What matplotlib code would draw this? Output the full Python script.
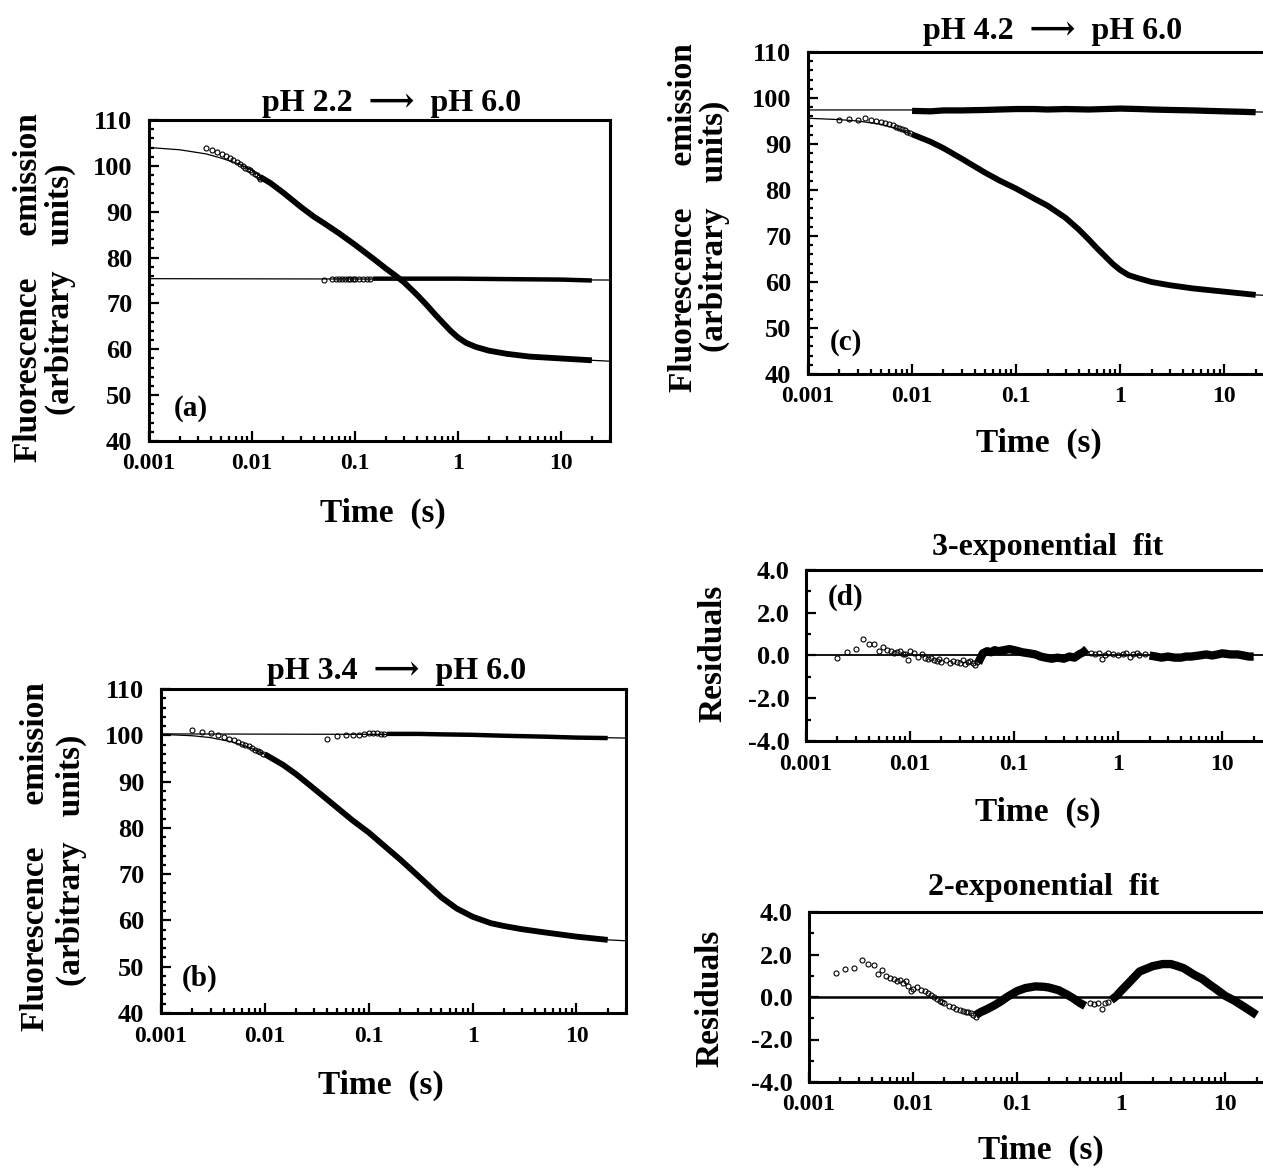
import numpy as np
import matplotlib
matplotlib.use('Agg')
import matplotlib.pyplot as plt
from matplotlib.ticker import MultipleLocator, LogLocator, NullFormatter, FormatStrFormatter

plt.rcParams['font.family'] = ['Liberation Serif', 'DejaVu Serif', 'DejaVu Sans']
plt.rcParams['font.weight'] = 'bold'
plt.rcParams['axes.unicode_minus'] = False

# ---------------------------------------------------------------
# data
# ---------------------------------------------------------------
x_ticks = [0.001, 0.01, 0.1, 1, 10]
x_tick_labels = ['0.001', '0.01', '0.1', '1', '10']

# (a) pH 2.2 -> pH 6.0
a_dec_fit_t = [0.001, 0.002, 0.0036, 0.005, 0.0075, 0.01, 0.015, 0.02, 0.03, 0.04, 0.05, 0.07,
               0.1, 0.15, 0.2, 0.25, 0.3, 0.4, 0.5, 0.6, 0.7, 0.85, 1, 1.2, 1.5, 2, 3, 5, 10,
               20, 30]
a_dec_fit_y = [104.0, 103.5, 102.6, 101.7, 100.4, 99.0, 96.3, 94.2, 91.0, 88.9, 87.5, 85.3,
               82.8, 79.8, 77.6, 76.0, 74.6, 71.9, 69.6, 67.6, 66.0, 64.0, 62.6, 61.4, 60.5,
               59.7, 59.0, 58.4, 58.0, 57.6, 57.4]
a_dec_circ_t = [0.0036, 0.0041, 0.0046, 0.0051, 0.0056, 0.0061, 0.0066, 0.0071, 0.0076,
                0.0081, 0.0086, 0.0091, 0.0096, 0.0101, 0.0106, 0.0111, 0.0116, 0.0121]
a_dec_circ_y = [103.8, 103.4, 103.0, 102.6, 102.1, 101.7, 101.3, 100.8, 100.4,
                100.0, 99.6, 99.3, 99.0, 98.6, 98.2, 97.9, 97.5, 97.1]
a_dec_band_t = [0.012, 0.015, 0.02, 0.03, 0.04, 0.05, 0.07, 0.1, 0.15, 0.2, 0.25, 0.3, 0.4,
                0.5, 0.6, 0.7, 0.85, 1, 1.2, 1.5, 2, 3, 5, 10, 20]
a_dec_band_y = [97.6, 96.3, 94.2, 91.0, 88.9, 87.5, 85.3, 82.8, 79.8, 77.6, 76.0, 74.6, 71.9,
                69.6, 67.6, 66.0, 64.0, 62.6, 61.4, 60.5, 59.7, 59.0, 58.4, 58.0, 57.6]
a_flat_fit_t = [0.001, 0.5, 30]
a_flat_fit_y = [75.4, 75.3, 75.1]
a_flat_circ_t = [0.05, 0.06, 0.065, 0.07, 0.075, 0.08, 0.085, 0.09, 0.095, 0.1, 0.11, 0.12,
                 0.13, 0.14]
a_flat_circ_y = [75.0, 75.4, 75.3, 75.4, 75.3, 75.4, 75.3, 75.4, 75.3, 75.3, 75.4, 75.3,
                 75.4, 75.3]
a_flat_band_t = [0.15, 0.5, 1, 3, 10, 20]
a_flat_band_y = [75.4, 75.4, 75.4, 75.3, 75.2, 75.0]

# (b) pH 3.4 -> pH 6.0
b_flat_fit_t = [0.001, 0.1, 1, 10, 30]
b_flat_fit_y = [100.3, 100.2, 100.0, 99.6, 99.4]
b_flat_circ_t = [0.04, 0.05, 0.06, 0.07, 0.08, 0.09, 0.1, 0.11, 0.12, 0.13, 0.14]
b_flat_circ_y = [99.2, 99.9, 100.0, 100.1, 100.0, 100.3, 100.5, 100.4, 100.4, 100.3, 100.2]
b_flat_band_t = [0.15, 0.3, 0.5, 1, 2, 5, 10, 20]
b_flat_band_y = [100.3, 100.3, 100.2, 100.1, 99.9, 99.7, 99.5, 99.4]
b_dec_fit_t = [0.001, 0.002, 0.003, 0.005, 0.007, 0.01, 0.015, 0.02, 0.03, 0.05, 0.07, 0.1,
               0.15, 0.2, 0.3, 0.4, 0.5, 0.7, 1, 1.5, 2, 3, 5, 10, 20, 30]
b_dec_fit_y = [100.2, 99.9, 99.5, 98.5, 97.4, 95.9, 93.6, 91.6, 88.4, 84.3, 81.6, 79.0,
               75.6, 73.2, 69.6, 67.0, 65.0, 62.6, 60.8, 59.4, 58.8, 58.1, 57.4, 56.5, 55.8,
               55.6]
b_dec_circ_t = [0.002, 0.0025, 0.003, 0.0035, 0.004, 0.0045, 0.005, 0.0055, 0.006, 0.0065,
                0.007, 0.0075, 0.008, 0.0085, 0.009, 0.0095]
b_dec_circ_y = [101.1, 100.7, 100.5, 100.1, 99.6, 99.3, 98.9, 98.6, 98.2, 97.9,
                97.6, 97.2, 96.9, 96.6, 96.3, 96.0]
b_dec_band_t = [0.01, 0.015, 0.02, 0.03, 0.05, 0.07, 0.1, 0.15, 0.2, 0.3, 0.4, 0.5, 0.7, 1,
                1.5, 2, 3, 5, 10, 20]
b_dec_band_y = [95.9, 93.6, 91.6, 88.4, 84.3, 81.6, 79.0, 75.6, 73.2, 69.6, 67.0, 65.0, 62.6,
                60.8, 59.4, 58.8, 58.1, 57.4, 56.5, 55.8]

# (c) pH 4.2 -> pH 6.0
c_flat_fit_t = [0.001, 0.01, 0.1, 1, 10, 30]
c_flat_fit_y = [97.4, 97.4, 97.5, 97.5, 97.1, 96.9]
c_flat_band_t = [0.01, 0.015, 0.02, 0.03, 0.05, 0.07, 0.1, 0.15, 0.2, 0.3, 0.5, 0.7, 1, 1.5,
                 2, 3, 5, 7, 10, 15, 20]
c_flat_band_y = [97.2, 97.1, 97.3, 97.3, 97.4, 97.5, 97.6, 97.6, 97.5, 97.6, 97.5, 97.6, 97.7,
                 97.6, 97.5, 97.4, 97.3, 97.2, 97.1, 97.0, 96.9]
c_dec_fit_t = [0.001, 0.002, 0.003, 0.005, 0.007, 0.01, 0.015, 0.02, 0.03, 0.05, 0.07, 0.1,
               0.15, 0.2, 0.3, 0.4, 0.5, 0.6, 0.7, 0.85, 1, 1.2, 1.5, 2, 3, 5, 10, 20, 30]
c_dec_fit_y = [95.6, 95.3, 95.0, 94.3, 93.4, 92.1, 90.5, 89.1, 86.8, 83.8, 82.0, 80.3,
               78.1, 76.6, 73.9, 71.4, 69.2, 67.3, 65.8, 63.9, 62.6, 61.5, 60.8, 60.0, 59.3,
               58.6, 57.9, 57.2, 57.0]
c_dec_circ_t = [0.002, 0.0025, 0.003, 0.0035, 0.004, 0.0045, 0.005, 0.0055, 0.006, 0.0065,
                0.007, 0.0075, 0.008, 0.0085, 0.009, 0.0095]
c_dec_circ_y = [95.3, 95.4, 95.3, 95.6, 95.2, 95.1, 94.8, 94.6, 94.3, 94.1,
                93.8, 93.5, 93.3, 93.0, 92.7, 92.4]
c_dec_band_t = [0.01, 0.015, 0.02, 0.03, 0.05, 0.07, 0.1, 0.15, 0.2, 0.3, 0.4, 0.5, 0.6, 0.7,
                0.85, 1, 1.2, 1.5, 2, 3, 5, 10, 20]
c_dec_band_y = [92.1, 90.5, 89.1, 86.8, 83.8, 82.0, 80.3, 78.1, 76.6, 73.9, 71.4, 69.2, 67.3,
                65.8, 63.9, 62.6, 61.5, 60.8, 60.0, 59.3, 58.6, 57.9, 57.2]

# (d) residuals, 3-exponential fit
d_circ_t = [0.002, 0.0025, 0.003, 0.0035, 0.004, 0.0045, 0.005, 0.0055, 0.006, 0.0065, 0.007,
            0.0075, 0.008, 0.0085, 0.009, 0.0095, 0.01, 0.011, 0.012, 0.013, 0.014, 0.015,
            0.016, 0.017, 0.018, 0.019, 0.02, 0.022, 0.024, 0.026, 0.028, 0.03, 0.032, 0.034,
            0.036, 0.038, 0.04, 0.042, 0.044]
d_circ_y = [-0.1, 0.15, 0.3, 0.75, 0.55, 0.55, 0.2, 0.4, 0.25, 0.2, 0.1, 0.15, 0.2, 0.05,
            0.05, -0.2, 0.2, 0.1, -0.05, 0.05, -0.1, -0.15, -0.1, -0.2, -0.25, -0.15, -0.3,
            -0.2, -0.35, -0.25, -0.3, -0.35, -0.2, -0.4, -0.3, -0.25, -0.35, -0.45, -0.3]
d_band1_t = [0.045, 0.05, 0.055, 0.06, 0.065, 0.07, 0.08, 0.09, 0.1, 0.11, 0.12, 0.14, 0.16,
             0.18, 0.2, 0.23, 0.26, 0.3, 0.34, 0.38, 0.42, 0.46, 0.5]
d_band1_y = [-0.35, 0.1, 0.2, 0.15, 0.25, 0.2, 0.25, 0.3, 0.25, 0.2, 0.15, 0.1, 0.05, -0.05,
             -0.1, -0.15, -0.1, -0.15, -0.05, -0.1, 0.05, 0.15, 0.3]
d_circ2_t = [0.55, 0.6, 0.65, 0.7, 0.75, 0.8, 0.9, 1.0, 1.1, 1.2, 1.3, 1.4, 1.5, 1.6, 1.8]
d_circ2_y = [0.1, 0.05, 0.1, -0.15, 0.0, 0.1, 0.05, 0.0, 0.05, 0.1, -0.05, 0.05, 0.1, 0.0, 0.05]
d_band2_t = [2, 2.3, 2.6, 3, 3.5, 4, 4.5, 5, 6, 7, 8, 9, 10, 12, 14, 16, 18, 20]
d_band2_y = [0.0, -0.05, -0.1, -0.05, -0.1, -0.1, -0.05, -0.05, 0.0, 0.05, 0.0, 0.05, 0.1,
             0.05, 0.05, 0.0, -0.05, -0.05]

# (e) residuals, 2-exponential fit
e_circ_t = [0.0018, 0.0022, 0.0027, 0.0032, 0.0037, 0.0042, 0.0046, 0.005, 0.0055, 0.006,
            0.0065, 0.007, 0.0075, 0.008, 0.0085, 0.009, 0.0095, 0.01, 0.011, 0.012, 0.013,
            0.014, 0.015, 0.016, 0.017, 0.018, 0.019, 0.02, 0.022, 0.024, 0.026, 0.028, 0.03,
            0.032, 0.034, 0.036, 0.038, 0.04]
e_circ_y = [1.15, 1.3, 1.35, 1.75, 1.55, 1.5, 1.1, 1.25, 1.0, 0.9, 0.85, 0.75, 0.8, 0.65, 0.75,
            0.5, 0.3, 0.4, 0.45, 0.35, 0.3, 0.2, 0.1, 0.0, -0.1, -0.2, -0.25, -0.3, -0.4, -0.45,
            -0.55, -0.6, -0.65, -0.7, -0.7, -0.75, -0.85, -0.95]
e_band1_t = [0.04, 0.045, 0.05, 0.06, 0.07, 0.08, 0.09, 0.1, 0.12, 0.15, 0.18, 0.2, 0.25, 0.3,
             0.35, 0.4, 0.45]
e_band1_y = [-0.85, -0.7, -0.6, -0.4, -0.2, 0.0, 0.15, 0.28, 0.42, 0.5, 0.48, 0.45, 0.32,
             0.12, -0.08, -0.28, -0.42]
e_circ2_t = [0.5, 0.55, 0.6, 0.65, 0.7, 0.75]
e_circ2_y = [-0.3, -0.35, -0.3, -0.55, -0.3, -0.25]
e_band2_t = [0.8, 0.9, 1.0, 1.2, 1.5, 2, 2.5, 3, 3.5, 4, 5, 6, 7, 8, 10, 12, 15, 18, 20]
e_band2_y = [-0.15, 0.05, 0.3, 0.7, 1.2, 1.45, 1.55, 1.55, 1.45, 1.35, 1.05, 0.85, 0.6, 0.4,
             0.05, -0.15, -0.45, -0.7, -0.85]

# ---------------------------------------------------------------
# figure / helpers (layout in pixels)
# ---------------------------------------------------------------
W, H = 1263, 1168
fig = plt.figure(figsize=(W / 100, H / 100), dpi=100)


def add_panel(L, T, R, B, ylim, ymaj, ymin, yfmt):
    ax = fig.add_axes([L / W, 1 - B / H, (R - L) / W, (B - T) / H])
    ax.set_xscale('log')
    ax.set_xlim(0.001, 30)
    ax.set_ylim(*ylim)
    ax.set_xticks(x_ticks)
    ax.set_xticklabels(x_tick_labels)
    ax.xaxis.set_minor_locator(LogLocator(base=10, subs=np.arange(2, 10)))
    ax.xaxis.set_minor_formatter(NullFormatter())
    ax.yaxis.set_major_locator(MultipleLocator(ymaj))
    ax.yaxis.set_minor_locator(MultipleLocator(ymin))
    ax.yaxis.set_major_formatter(FormatStrFormatter(yfmt))
    ax.tick_params(which='both', direction='in', top=False, right=False, width=1.6)
    ax.tick_params(which='major', length=7)
    ax.tick_params(which='minor', length=3.5)
    ax.tick_params(axis='y', pad=12, labelsize=19)
    ax.tick_params(axis='x', pad=9, labelsize=17)
    for s in ax.spines.values():
        s.set_linewidth(2.2)
    return ax


def ftext(x, y, s, size, rot=0):
    fig.text(x / W, 1 - y / H, s, fontsize=size, rotation=rot, ha='center', va='center',
             fontweight='bold')


def fit(ax, t, y, lw=0.9):
    ax.plot(t, y, color='black', lw=lw, zorder=2)


def band(ax, t, y, lw=4.2):
    ax.plot(t, y, color='black', lw=lw, solid_capstyle='butt', solid_joinstyle='round', zorder=3)


def circles(ax, t, y):
    ax.plot(t, y, 'o', ms=3.6, mfc='none', mec='black', mew=0.8, zorder=4)


# (a)
ax = add_panel(149, 120, 610, 441, (40, 110), 10, 2, '%d')
fit(ax, a_dec_fit_t, a_dec_fit_y)
fit(ax, a_flat_fit_t, a_flat_fit_y)
circles(ax, a_dec_circ_t, a_dec_circ_y)
band(ax, a_dec_band_t, a_dec_band_y)
circles(ax, a_flat_circ_t, a_flat_circ_y)
band(ax, a_flat_band_t, a_flat_band_y, lw=3.2)

# (b)
ax = add_panel(161, 689, 626, 1013, (40, 110), 10, 2, '%d')
fit(ax, b_dec_fit_t, b_dec_fit_y)
fit(ax, b_flat_fit_t, b_flat_fit_y)
circles(ax, b_dec_circ_t, b_dec_circ_y)
band(ax, b_dec_band_t, b_dec_band_y)
circles(ax, b_flat_circ_t, b_flat_circ_y)
band(ax, b_flat_band_t, b_flat_band_y, lw=3.2)

# (c)
ax = add_panel(808, 52, 1274, 374, (40, 110), 10, 2, '%d')
fit(ax, c_dec_fit_t, c_dec_fit_y)
fit(ax, c_flat_fit_t, c_flat_fit_y)
circles(ax, c_dec_circ_t, c_dec_circ_y)
band(ax, c_dec_band_t, c_dec_band_y)
band(ax, c_flat_band_t, c_flat_band_y, lw=4.5)

# (d)
ax = add_panel(806, 570, 1272, 741, (-4, 4), 2, 1, '%.1f')
ax.axhline(0, color='black', lw=1.3, zorder=2)
circles(ax, d_circ_t, d_circ_y)
band(ax, d_band1_t, d_band1_y, lw=6)
circles(ax, d_circ2_t, d_circ2_y)
band(ax, d_band2_t, d_band2_y, lw=6)

# (e)
ax = add_panel(809, 912, 1275, 1082, (-4, 4), 2, 1, '%.1f')
ax.axhline(0, color='black', lw=1.8, zorder=2)
circles(ax, e_circ_t, e_circ_y)
band(ax, e_band1_t, e_band1_y, lw=6)
circles(ax, e_circ2_t, e_circ2_y)
band(ax, e_band2_t, e_band2_y, lw=6)

# ---------------------------------------------------------------
# texts
# ---------------------------------------------------------------
arrow = '  \u27f6  '
ftext(392, 103, 'pH 2.2' + arrow + 'pH 6.0', 23)
ftext(397, 672, 'pH 3.4' + arrow + 'pH 6.0', 23)
ftext(1053, 32, 'pH 4.2' + arrow + 'pH 6.0', 23)
ftext(1048, 548, '3-exponential  fit', 23)
ftext(1044, 888, '2-exponential  fit', 23)

for (x1, y1, x2, y2) in [(29, 288, 60, 289), (36, 857, 71, 860), (683, 218, 714, 226)]:
    ftext(x1, y1, 'Fluorescence     emission', 24, 90)
    ftext(x2, y2, '(arbitrary   units)', 24, 90)
ftext(713, 653, 'Residuals', 24, 90)
ftext(710, 998, 'Residuals', 24, 90)

for (x, y) in [(383, 513), (381, 1085), (1039, 443), (1038, 812), (1041, 1150)]:
    ftext(x, y, 'Time  (s)', 24)

ftext(191, 408, '(a)', 21)
ftext(200, 978, '(b)', 21)
ftext(846, 343, '(c)', 21)
ftext(846, 597, '(d)', 21)

fig.savefig('out.png', dpi=100)
